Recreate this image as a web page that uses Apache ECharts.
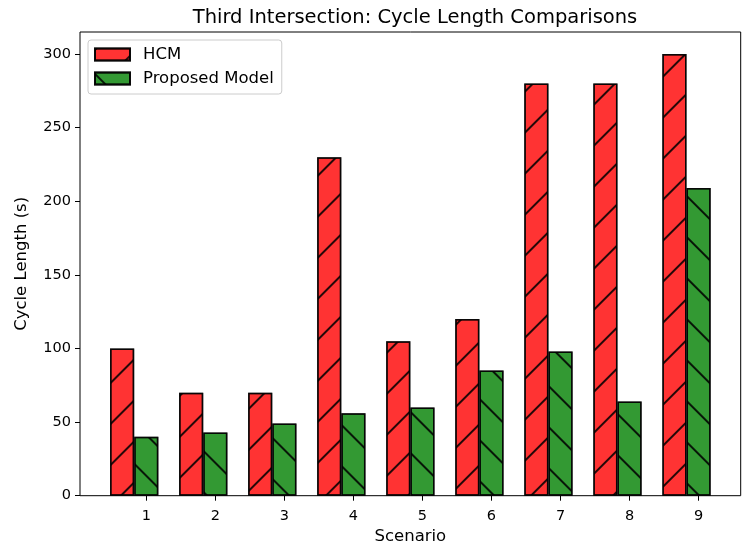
<!DOCTYPE html>
<html>
<head>
<meta charset="utf-8">
<script src="https://cdn.jsdelivr.net/npm/echarts@6/dist/echarts.min.js"></script>
<style>
  html, body { margin: 0; padding: 0; background: #fff; }
  #chart { width: 748px; height: 552px; }
</style>
</head>
<body>
<div id="chart"></div>
<script>
// Scenario numbers and cycle lengths (s)
const scenarios = [1, 2, 3, 4, 5, 6, 7, 8, 9];
const hcmCycle = [100, 70, 70, 230, 105, 120, 280, 280, 300];
const proposedCycle = [40, 43, 49, 56, 60, 85, 98, 64, 209];
const yTicks = [0, 50, 100, 150, 200, 250, 300];

const FONT = 'DejaVu Sans';
const BAR_W = 0.35;           // bar width in scenario units
const Y_MAX = 315;

// x extent: bars span [s - 1.5w, s + 0.5w], plus a 5% margin each side
const leftEdge = scenarios[0] - 1.5 * BAR_W;
const rightEdge = scenarios[scenarios.length - 1] + 0.5 * BAR_W;
const pad = 0.05 * (rightEdge - leftEdge);
const xMin = leftEdge - pad;
const xMax = rightEdge + pad;

function hatch(rotation) {
  return {
    symbol: 'rect',
    symbolSize: 1,
    color: 'rgba(0,0,0,0.85)',
    dashArrayX: [1, 0],
    dashArrayY: [1.5, 27],
    rotation: rotation
  };
}

const chart = echarts.init(document.getElementById('chart'), null, { renderer: 'canvas' });

const option = {
  animation: false,
  backgroundColor: '#fff',
  title: {
    text: 'Third Intersection: Cycle Length Comparisons',
    left: 410, top: 3, textAlign: 'center',
    textStyle: { fontFamily: FONT, fontSize: 19.5, fontWeight: 'normal', color: '#000' }
  },
  grid: {
    left: 80, right: 7.3, top: 32, bottom: 56.3,
    show: true, borderColor: '#000', borderWidth: 1, backgroundColor: 'transparent'
  },
  legend: {
    orient: 'vertical',
    left: 88, top: 40,
    padding: [5, 8, 6, 6],
    itemWidth: 35, itemHeight: 12, itemGap: 5,
    backgroundColor: 'rgba(255,255,255,0.8)',
    borderColor: '#cccccc', borderWidth: 1, borderRadius: 3,
    textStyle: { fontFamily: FONT, fontSize: 16.5, color: '#000', lineHeight: 19, padding: [0, 0, 0, 8] },
    data: [{ name: 'HCM', icon: 'rect' }, { name: 'Proposed Model', icon: 'rect' }]
  },
  xAxis: {
    type: 'value', min: xMin, max: xMax,
    name: 'Scenario', nameLocation: 'middle', nameGap: 31,
    nameTextStyle: { fontFamily: FONT, fontSize: 16.5, color: '#000' },
    axisLine: { show: false },
    axisTick: { show: true, length: 5, lineStyle: { color: '#000', width: 1 }, customValues: scenarios },
    axisLabel: { fontFamily: FONT, fontSize: 14.5, color: '#000', margin: 13, customValues: scenarios },
    splitLine: { show: false }
  },
  yAxis: {
    type: 'value', min: 0, max: Y_MAX,
    name: 'Cycle Length (s)', nameLocation: 'middle', nameGap: 50,
    nameTextStyle: { fontFamily: FONT, fontSize: 16.5, color: '#000' },
    axisLine: { show: false },
    axisTick: { show: true, length: 5, lineStyle: { color: '#000', width: 1 }, customValues: yTicks },
    axisLabel: { fontFamily: FONT, fontSize: 14.5, color: '#000', margin: 9, customValues: yTicks },
    splitLine: { show: false }
  },
  series: [
    {
      name: 'HCM', type: 'bar', barGap: '-100%', barWidth: 24,
      data: scenarios.map((s, i) => [s - BAR_W, hcmCycle[i]]),
      itemStyle: {
        color: 'rgba(255,0,0,0.8)', borderColor: 'rgba(0,0,0,0.8)', borderWidth: 1.5,
        decal: hatch(-Math.PI / 4)
      }
    },
    {
      name: 'Proposed Model', type: 'bar', barGap: '-100%', barWidth: 24,
      data: scenarios.map((s, i) => [s, proposedCycle[i]]),
      itemStyle: {
        color: 'rgba(0,128,0,0.8)', borderColor: 'rgba(0,0,0,0.8)', borderWidth: 1.5,
        decal: hatch(Math.PI / 4)
      }
    }
  ]
};

chart.setOption(option);

// size the bars in pixels from the axis scale
const px0 = chart.convertToPixel({ xAxisIndex: 0 }, 0);
const px1 = chart.convertToPixel({ xAxisIndex: 0 }, BAR_W);
const wPx = Math.abs(px1 - px0);
chart.setOption({ series: [{ barWidth: wPx }, { barWidth: wPx }] });
</script>
</body>
</html>
